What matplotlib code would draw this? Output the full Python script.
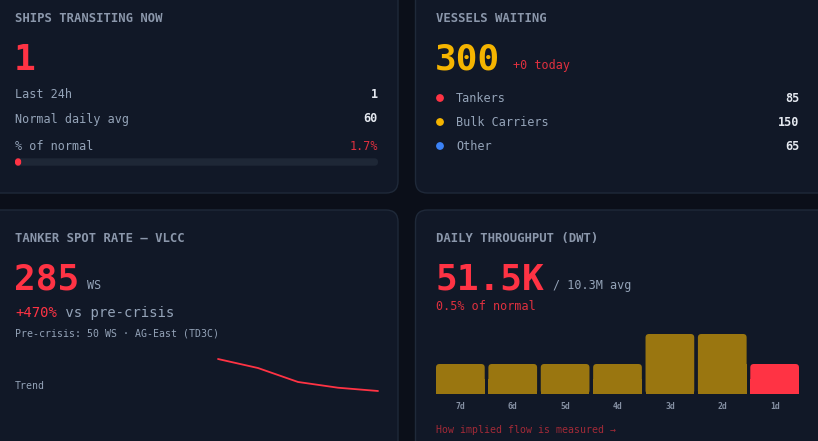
import matplotlib
matplotlib.use("Agg")
import matplotlib.pyplot as plt
from matplotlib.patches import FancyBboxPatch, Circle

# ---------------------------------------------------------------------------
# data
# ---------------------------------------------------------------------------
ships_now = "1"
transit_rows = ["Last 24h", "Normal daily avg"]
transit_vals = ["1", "60"]
pct_of_normal = 1.7

vessels_total = "300"
vessels_delta = "+0 today"
vessel_types = ["Tankers", "Bulk Carriers", "Other"]
vessel_counts = [85, 150, 65]

spot_rate = "285"
spot_change = "+470%"
spot_note = "Pre-crisis: 50 WS \u00b7 AG-East (TD3C)"
trend_ws = [300, 278, 244, 230, 222]

throughput = "51.5K"
throughput_avg = "/ 10.3M avg"
throughput_pct = "0.5% of normal"
day_labels = ["7d", "6d", "5d", "4d", "3d", "2d", "1d"]
day_values = [51.5, 51.5, 51.5, 51.5, 103, 103, 51.5]

# ---------------------------------------------------------------------------
# style
# ---------------------------------------------------------------------------
W, H = 818, 441
BG = "#0b0f19"
CARD = "#111827"
BORDER = "#1f2939"
RED = "#ff3344"
RED_DIM = "#e0303f"
RED_LINK = "#a32a37"
AMBER = "#f5b400"
AMBER_BAR = "#9a7610"   # amber at 60% over the card colour
BLUE = "#3b82f6"
LABEL = "#94a3b8"
TITLE = "#8b97ab"
VALUE = "#e5e9f0"
MONO = "DejaVu Sans Mono"

plt.rcParams["font.family"] = MONO

fig = plt.figure(figsize=(W / 100, H / 100), dpi=100, facecolor=BG)
ax = fig.add_axes([0, 0, 1, 1])
ax.set_xlim(0, W)
ax.set_ylim(H, 0)
ax.axis("off")


def px_axes(x0, y0, x1, y1):
    """Axes placed by pixel box (top-left origin)."""
    a = fig.add_axes([x0 / W, 1 - y1 / H, (x1 - x0) / W, (y1 - y0) / H])
    a.patch.set_alpha(0)
    for s in a.spines.values():
        s.set_visible(False)
    return a


def card(x0, y0, x1, y1):
    ax.add_patch(FancyBboxPatch(
        (x0, y0), x1 - x0, y1 - y0,
        boxstyle="round,pad=0,rounding_size=12",
        facecolor=CARD, edgecolor=BORDER, linewidth=1.0, zorder=1,
    ))


def txt(x, y, s, size, color, weight="normal", ha="left"):
    return ax.text(x, y, s, fontsize=size, color=color, fontweight=weight,
                   ha=ha, va="baseline", zorder=5)


def right_edge(t):
    fig.canvas.draw()
    return t.get_window_extent(fig.canvas.get_renderer()).x1


card(-20, -20, 398, 193)
card(415.5, -20, 840, 193)
card(-20, 210, 398, 460)
card(415.5, 210, 840, 460)

# ---- ships transiting now --------------------------------------------------
txt(15, 22, "SHIPS TRANSITING NOW", 8.8, TITLE, "bold")
txt(14, 70, ships_now, 26, RED, "bold")
for i, (lab, val) in enumerate(zip(transit_rows, transit_vals)):
    y = 98.5 + i * 24
    txt(15, y, lab, 8.5, LABEL)
    txt(378, y, val, 8.5, VALUE, "bold", ha="right")
txt(15, 150, "% of normal", 8.5, LABEL)
txt(378, 150, f"{pct_of_normal}%", 8.5, RED_DIM, ha="right")

pax = px_axes(15, 158.3, 378, 165.7)
pax.set_xlim(0, 100)
pax.set_ylim(0, 1)
pax.set_xticks([])
pax.set_yticks([])
asp = (100 / 363) / (1 / 7.4)
pax.add_patch(FancyBboxPatch((0, 0), 100, 1,
                             boxstyle="round,pad=0,rounding_size=1.0",
                             mutation_aspect=1 / asp,
                             facecolor="#1e2736", edgecolor="none"))
r = min(1.0, pct_of_normal / 2)
pax.add_patch(FancyBboxPatch((0, 0), pct_of_normal, 1,
                             boxstyle=f"round,pad=0,rounding_size={r}",
                             mutation_aspect=1 / asp,
                             facecolor=RED, edgecolor="none"))

# ---- vessels waiting ---------------------------------------------------------
txt(436, 22, "VESSELS WAITING", 8.8, TITLE, "bold")
big = txt(435, 70, vessels_total, 26, AMBER, "bold")
txt(right_edge(big) + 13, 69, vessels_delta, 8.5, RED_DIM)
dot_colors = [RED, AMBER, BLUE]
for i, (lab, cnt) in enumerate(zip(vessel_types, vessel_counts)):
    y = 102 + i * 24
    ax.add_patch(Circle((440, y - 4), 3.9, facecolor=dot_colors[i],
                        edgecolor="none", zorder=5))
    txt(456, y, lab, 8.5, LABEL)
    txt(799, y, str(cnt), 8.5, VALUE, "bold", ha="right")

# ---- tanker spot rate ----------------------------------------------------------
txt(15, 242, "TANKER SPOT RATE \u2014 VLCC", 8.8, TITLE, "bold")
big = txt(14, 290, spot_rate, 26, RED, "bold")
txt(right_edge(big) + 8, 289, "WS", 8.5, LABEL)
t = txt(15, 317, spot_change, 10, RED)
txt(right_edge(t), 317, " vs pre-crisis", 10, LABEL)
txt(15, 337, spot_note, 7.1, LABEL)
txt(15, 389, "Trend", 7.1, LABEL)

sax = px_axes(218, 359, 378, 391)
sax.plot(range(len(trend_ws)), trend_ws, color=RED, linewidth=1.3,
         clip_on=False, solid_capstyle="round")
sax.set_xlim(0, len(trend_ws) - 1)
sax.set_ylim(min(trend_ws), max(trend_ws))
sax.set_xticks([])
sax.set_yticks([])

# ---- daily throughput -----------------------------------------------------------
txt(436, 242, "DAILY THROUGHPUT (DWT)", 8.8, TITLE, "bold")
big = txt(435, 290, throughput, 26, RED, "bold")
txt(right_edge(big) + 9, 289, throughput_avg, 8.5, LABEL)
txt(436, 310, throughput_pct, 8.5, RED_DIM)

bax = px_axes(436, 334, 799, 394)
bw = 0.93
bar_colors = [AMBER_BAR] * (len(day_values) - 1) + [RED]
bars = bax.bar(range(len(day_values)), day_values, width=bw,
               color=bar_colors)
bax.set_xlim(-bw / 2, len(day_values) - 1 + bw / 2)
bax.set_ylim(0, max(day_values))

# round the top corners: rounded patch on top, square base below
x_per_px = (len(day_values) - 1 + bw) / 363
y_per_px = max(day_values) / 60
rad = 3.5 * x_per_px
for b in bars:
    bax.add_patch(FancyBboxPatch(
        (b.get_x(), b.get_y()), b.get_width(), b.get_height(),
        boxstyle=f"round,pad=0,rounding_size={rad}",
        mutation_aspect=y_per_px / x_per_px,
        facecolor=b.get_facecolor(), edgecolor="none"))
    b.set_height(b.get_height() / 2)

bax.set_yticks([])
bax.set_xticks(range(len(day_labels)))
bax.set_xticklabels(day_labels, fontsize=5.9, color="#8590a3",
                    fontweight="bold")
bax.tick_params(axis="x", length=0, pad=6)

txt(436, 433, "How implied flow is measured \u2192", 7.1, RED_LINK)

fig.savefig("out.png", dpi=100, facecolor=BG)
